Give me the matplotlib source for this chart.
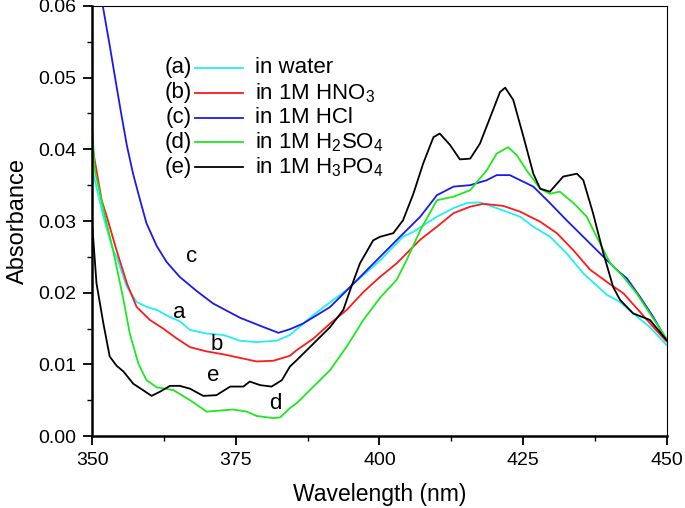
import matplotlib
matplotlib.use('Agg')
import matplotlib.pyplot as plt
import numpy as np

plt.rcParams['font.family'] = ['Liberation Sans', 'DejaVu Sans']
plt.rcParams['mathtext.fontset'] = 'custom'
plt.rcParams['mathtext.rm'] = 'Liberation Sans'
plt.rcParams['mathtext.it'] = 'Liberation Sans'

# (a) in water
wl_a = [350.0, 351.9, 353.6, 354.2, 356.0, 357.7, 359.5, 361.2, 363.5, 365.2, 367.0, 369.9, 372.8, 375.7,
        378.6, 382.1, 384.4, 388.5, 394.3, 400.1, 404.1, 405.9, 410.0, 412.9, 415.2, 417.5, 420.4, 424.5,
        426.8, 429.7, 432.6, 435.5, 439.6, 441.9, 444.2, 447.1, 450.0]
abs_a = [0.0371, 0.0306, 0.0259, 0.0250, 0.0208, 0.0187, 0.0180, 0.0176, 0.0166, 0.0160, 0.0148, 0.0143,
         0.0141, 0.0133, 0.0131, 0.0133, 0.0141, 0.0169, 0.0204, 0.0245, 0.0278, 0.0285, 0.0306, 0.0318,
         0.0325, 0.0326, 0.0318, 0.0306, 0.0292, 0.0278, 0.0255, 0.0227, 0.0197, 0.0187, 0.0171, 0.0152,
         0.0127]

# (b) in 1M HNO3
wl_b = [350.0, 351.6, 352.5, 354.2, 356.0, 357.7, 360.0, 362.3, 364.7, 367.0, 369.9, 372.8, 375.7, 378.6,
        381.5, 384.4, 385.6, 388.5, 391.4, 394.3, 397.2, 400.1, 403.0, 407.1, 410.0, 412.9, 415.8, 418.1,
        421.6, 424.5, 428.0, 430.9, 433.8, 436.7, 439.6, 442.5, 445.4, 447.7, 450.0]
abs_b = [0.0403, 0.0329, 0.0306, 0.0259, 0.0213, 0.0180, 0.0162, 0.0150, 0.0136, 0.0124, 0.0118, 0.0114,
         0.0109, 0.0104, 0.0105, 0.0112, 0.0120, 0.0136, 0.0157, 0.0176, 0.0201, 0.0222, 0.0241, 0.0274,
         0.0292, 0.0311, 0.0320, 0.0324, 0.0321, 0.0313, 0.0299, 0.0283, 0.0259, 0.0232, 0.0215, 0.0199,
         0.0173, 0.0152, 0.0132]

# (c) in 1M HCl
wl_c = [351.8, 353.0, 354.0, 355.0, 356.0, 357.1, 358.3, 359.4, 361.2, 362.9, 365.2, 368.2, 371.0, 375.7,
        379.8, 382.4, 384.4, 386.7, 391.4, 394.9, 400.1, 404.2, 407.1, 410.0, 412.9, 415.8, 418.7, 420.4,
        422.7, 424.5, 426.8, 429.7, 432.6, 435.5, 438.4, 441.3, 443.1, 445.4, 447.7, 450.0]
abs_c = [0.0600, 0.0545, 0.0497, 0.0450, 0.0405, 0.0365, 0.0329, 0.0297, 0.0265, 0.0243, 0.0222, 0.0202,
         0.0185, 0.0165, 0.0152, 0.0144, 0.0149, 0.0157, 0.0180, 0.0208, 0.0250, 0.0283, 0.0306, 0.0336,
         0.0348, 0.0350, 0.0357, 0.0364, 0.0364, 0.0357, 0.0348, 0.0325, 0.0301, 0.0278, 0.0255, 0.0232,
         0.0220, 0.0194, 0.0166, 0.0134]

# (d) in 1M H2SO4
wl_d = [350.0, 350.4, 352.2, 353.6, 355.4, 356.5, 358.0, 359.4, 361.2, 364.1, 367.0, 369.9, 374.5, 376.9,
        378.6, 381.5, 382.7, 384.4, 385.6, 388.5, 391.4, 394.3, 397.2, 400.1, 403.0, 404.7, 407.1, 410.0,
        412.9, 415.8, 418.7, 420.4, 422.4, 423.9, 425.6, 428.0, 429.7, 431.4, 433.8, 436.1, 438.4, 440.2,
        442.5, 444.8, 447.1, 450.0]
abs_d = [0.0424, 0.0371, 0.0306, 0.0259, 0.0190, 0.0143, 0.0101, 0.0078, 0.0068, 0.0064, 0.0050, 0.0034,
         0.0037, 0.0034, 0.0028, 0.0025, 0.0026, 0.0039, 0.0046, 0.0069, 0.0092, 0.0125, 0.0162, 0.0193,
         0.0218, 0.0245, 0.0287, 0.0329, 0.0334, 0.0343, 0.0371, 0.0394, 0.0403, 0.0392, 0.0371, 0.0345,
         0.0338, 0.0341, 0.0325, 0.0306, 0.0269, 0.0241, 0.0222, 0.0199, 0.0171, 0.0136]

# (e) in 1M H3PO4
wl_e = [350.0, 350.7, 351.9, 353.0, 354.2, 355.4, 357.1, 358.8, 360.3, 361.8, 363.5, 365.2, 367.0, 369.3,
        371.6, 374.0, 376.3, 377.4, 379.2, 381.2, 383.0, 384.4, 385.6, 388.5, 391.4, 393.7, 394.9, 396.6,
        398.9, 400.1, 402.4, 404.1, 405.9, 407.6, 409.4, 410.5, 412.3, 414.0, 415.8, 417.5, 419.3, 421.0,
        421.9, 423.3, 425.1, 426.8, 428.0, 429.7, 432.0, 434.4, 435.5, 437.2, 439.0, 440.7, 441.9, 444.2,
        447.1, 450.0]
abs_e = [0.0290, 0.0213, 0.0157, 0.0111, 0.0098, 0.0090, 0.0073, 0.0064, 0.0056, 0.0062, 0.0070, 0.0070,
         0.0066, 0.0056, 0.0057, 0.0069, 0.0069, 0.0076, 0.0071, 0.0069, 0.0078, 0.0097, 0.0106, 0.0129,
         0.0152, 0.0176, 0.0204, 0.0241, 0.0273, 0.0278, 0.0283, 0.0301, 0.0338, 0.0380, 0.0417, 0.0422,
         0.0406, 0.0386, 0.0387, 0.0408, 0.0445, 0.0480, 0.0486, 0.0469, 0.0417, 0.0366, 0.0345, 0.0341,
         0.0362, 0.0366, 0.0357, 0.0311, 0.0255, 0.0208, 0.0190, 0.0171, 0.0162, 0.0134]

series = [
    ('(a)', 'in water', wl_a, abs_a, '#22eef5'),
    ('(b)', r'in 1M HNO$_3$', wl_b, abs_b, '#ff1a1a'),
    ('(c)', 'in 1M HCl', wl_c, abs_c, '#1a1aee'),
    ('(d)', r'in 1M H$_2$SO$_4$', wl_d, abs_d, '#1ee81e'),
    ('(e)', r'in 1M H$_3$PO$_4$', wl_e, abs_e, '#000000'),
]

curve_labels = ['a', 'b', 'c', 'd', 'e']
label_x = [365.2, 371.7, 367.3, 381.8, 371.0]
label_y = [0.0172, 0.0127, 0.0251, 0.0046, 0.0084]

fig = plt.figure(figsize=(6.85, 5.08), dpi=100)
ax = fig.add_axes([0.135, 0.1417, 0.838, 0.8465])

for tag, name, x, y, col in series:
    ax.plot(x, y, color=col, lw=1.3)

for t, xx, yy in zip(curve_labels, label_x, label_y):
    ax.text(xx, yy, t, fontsize=16, ha='center', va='center')

# legend drawn by hand: "(a) ---- in water"
for i, (tag, name, x, y, col) in enumerate(series):
    yy = 0.856 - i * 0.0578
    ax.text(0.173, yy, tag, transform=ax.transAxes, fontsize=16, ha='right', va='center')
    ax.plot([0.179, 0.263], [yy, yy], color=col, lw=1.3, transform=ax.transAxes)
    ax.text(0.284, yy, name, transform=ax.transAxes, fontsize=16, ha='left', va='center')

ax.set_xlim(350, 450)
ax.set_ylim(0, 0.06)
ax.set_xticks([350, 375, 400, 425, 450])
ax.set_xticks(np.arange(350, 451, 12.5), minor=True)
ax.set_yticks([0.0, 0.01, 0.02, 0.03, 0.04, 0.05, 0.06])
ax.set_yticks(np.arange(0, 0.0601, 0.005), minor=True)
ax.set_yticklabels(['0.00', '0.01', '0.02', '0.03', '0.04', '0.05', '0.06'])
ax.tick_params(which='major', direction='out', length=6.5, width=1.3, labelsize=14, pad=5)
ax.tick_params(which='minor', direction='out', length=3.6, width=1.0)
ax.tick_params(top=False, right=False)

for s in ['left', 'bottom']:
    ax.spines[s].set_linewidth(1.8)
for s in ['top', 'right']:
    ax.spines[s].set_linewidth(0.8)

ax.set_xlabel('Wavelength (nm)', fontsize=16.5, labelpad=10)
ax.set_ylabel('Absorbance', fontsize=17, labelpad=7)

fig.savefig('out.png', dpi=100)
